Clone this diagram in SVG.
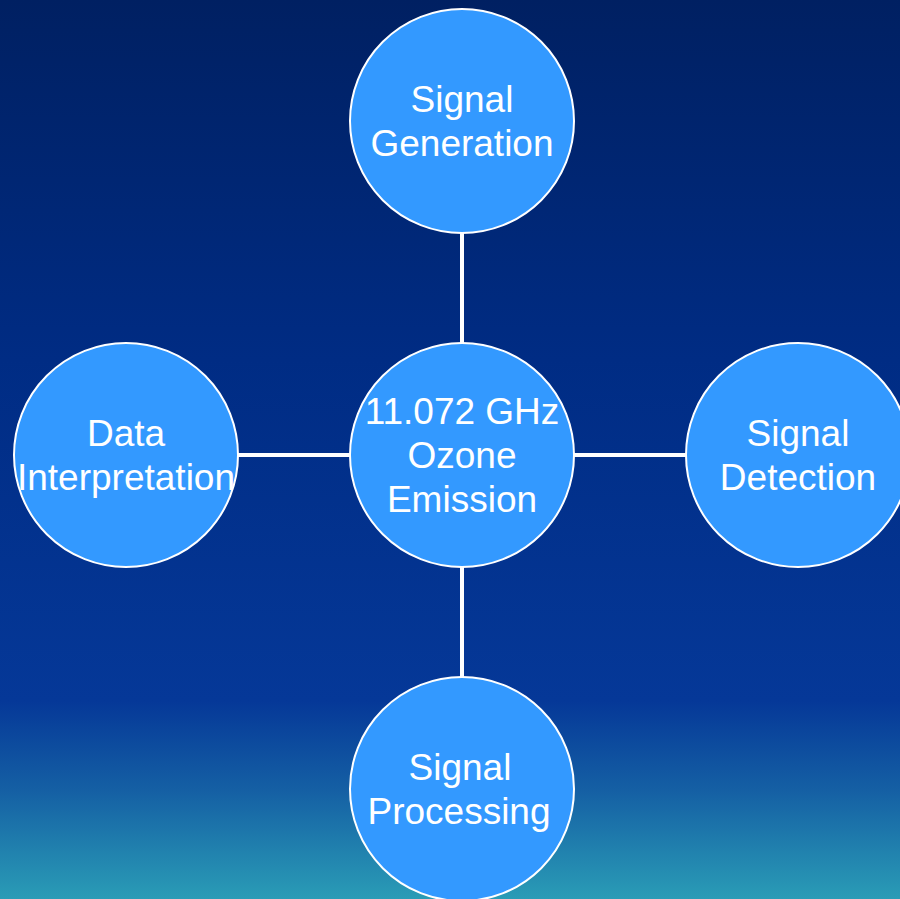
<svg xmlns="http://www.w3.org/2000/svg" width="900" height="899" viewBox="0 0 900 899">
<defs>
<linearGradient id="bg" x1="0" y1="0" x2="0" y2="1">
<stop offset="0" stop-color="#002062"/>
<stop offset="0.4" stop-color="#002c84"/>
<stop offset="0.78" stop-color="#053898"/>
<stop offset="0.88" stop-color="#1560a4"/>
<stop offset="1" stop-color="#2a9cb6"/>
</linearGradient>
<style>
.n{fill:#3399ff;stroke:#ffffff;stroke-width:2}
.t{font-family:"Liberation Sans",Arial,sans-serif;font-size:37px;fill:#ffffff;text-anchor:middle}
.c{stroke:#ffffff;stroke-width:4;fill:none}
</style>
</defs>
<rect x="0" y="0" width="900" height="899" fill="url(#bg)"/>
<g id="connectors">
<line class="c" x1="462" y1="233" x2="462" y2="343"/>
<line class="c" x1="462" y1="567" x2="462" y2="677"/>
<line class="c" x1="238" y1="455" x2="350" y2="455"/>
<line class="c" x1="574" y1="455" x2="686" y2="455"/>
</g>
<g id="center">
<circle class="n" cx="462" cy="455" r="112"/>
<text class="t" x="462" y="424">11.072 GHz</text>
<text class="t" x="462" y="468">Ozone</text>
<text class="t" x="462" y="512">Emission</text>
</g>
<g id="generation">
<circle class="n" cx="462" cy="121" r="112"/>
<text class="t" x="462" y="112">Signal</text>
<text class="t" x="462" y="156">Generation</text>
</g>
<g id="detection">
<circle class="n" cx="798" cy="455" r="112"/>
<text class="t" x="798" y="446">Signal</text>
<text class="t" x="798" y="490">Detection</text>
</g>
<g id="processing">
<circle class="n" cx="462" cy="789" r="112"/>
<text class="t" x="460" y="780">Signal</text>
<text class="t" x="459" y="824">Processing</text>
</g>
<g id="interpretation">
<circle class="n" cx="126" cy="455" r="112"/>
<text class="t" x="126" y="446">Data</text>
<text class="t" x="126" y="490">Interpretation</text>
</g>
</svg>
